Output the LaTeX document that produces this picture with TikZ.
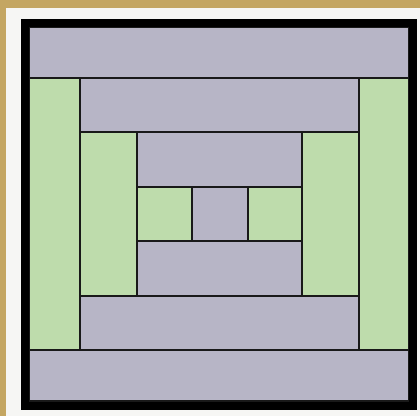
\documentclass[tikz,border=0pt]{standalone}
\definecolor{lav}{RGB}{183,181,198}
\definecolor{grn}{RGB}{190,220,172}
\definecolor{gold}{RGB}{196,166,98}
\definecolor{paper}{RGB}{246,246,244}
\tikzset{
  piece/.style={draw=black!90, line width=1.3pt},
  lavpiece/.style={piece, fill=lav},
  grnpiece/.style={piece, fill=grn}
}
\begin{document}
\begin{tikzpicture}[x=1pt,y=-1pt]
\useasboundingbox (0,0) rectangle (420,416);
\fill[paper] (0,0) rectangle (420,416);
\fill[gold] (0,0) rectangle (420,8);
\fill[gold] (0,0) rectangle (6,416);
% rounds
\path[lavpiece] (29,27) rectangle (409,78);
\path[grnpiece] (29,78) rectangle (80,350);
\path[grnpiece] (359,78) rectangle (409,350);
\path[lavpiece] (29,350) rectangle (409,401);
\path[lavpiece] (80,78) rectangle (359,132);
\path[grnpiece] (80,132) rectangle (137,296);
\path[grnpiece] (302,132) rectangle (359,296);
\path[lavpiece] (80,296) rectangle (359,350);
\path[lavpiece] (137,132) rectangle (302,187);
\path[grnpiece] (137,187) rectangle (192,241);
\path[grnpiece] (248,187) rectangle (302,241);
\path[lavpiece] (137,241) rectangle (302,296);
\path[lavpiece] (192,187) rectangle (248,241);
% outer border
\draw[line width=8pt] (25,23) rectangle (412.5,405.5);
\end{tikzpicture}
\end{document}
